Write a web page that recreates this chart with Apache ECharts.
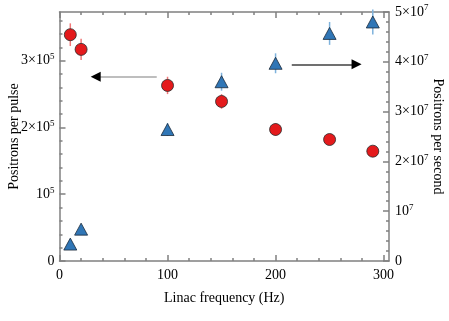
<!DOCTYPE html>
<html>
<head>
<meta charset="utf-8">
<script src="https://cdn.jsdelivr.net/npm/echarts@6/dist/echarts.min.js"></script>
<style>html,body{margin:0;padding:0;background:#fff}#c{width:449px;height:321px}</style>
</head>
<body>
<div id="c"></div>
<script>
// ---- data ----
const freq = [10, 20, 100, 150, 200, 250, 290];
const perPulse = [3.39e5, 3.17e5, 2.63e5, 2.39e5, 1.97e5, 1.82e5, 1.645e5];
const perPulseErr = [0.17e5, 0.16e5, 0.13e5, 0.11e5, 0.095e5, 0.08e5, 0.07e5];
const perSecond = [0.34e7, 0.64e7, 2.64e7, 3.6e7, 3.97e7, 4.57e7, 4.8e7];
const perSecondErr = [0.05e7, 0.08e7, 0.13e7, 0.18e7, 0.2e7, 0.23e7, 0.25e7];
const xMajor = [0, 100, 200, 300];
const xMinor = [20, 40, 60, 80, 120, 140, 160, 180, 220, 240, 260, 280];
const leftMajor = [0, 1e5, 2e5, 3e5];
const leftMinor = [0.2e5, 0.4e5, 0.6e5, 0.8e5, 1.2e5, 1.4e5, 1.6e5, 1.8e5, 2.2e5, 2.4e5, 2.6e5, 2.8e5, 3.2e5, 3.4e5, 3.6e5];
const leftLabels = {0: '{b|0}', 100000: '{b|10}{s|5}', 200000: '{b|2×10}{s|5}', 300000: '{b|3×10}{s|5}'};
const rightLabels = {0: '{b|0}', 10000000: '{b|10}{s|7}', 20000000: '{b|2×10}{s|7}', 30000000: '{b|3×10}{s|7}', 40000000: '{b|4×10}{s|7}', 50000000: '{b|5×10}{s|7}'};
const leftArrow = [[90, 2.76e5], [36, 2.76e5], [33.5, 2.76e5]];
const rightArrow = [[215, 3.95e7], [272, 3.95e7], [275, 3.95e7]];

const FONT = 'Liberation Serif';
const GRAY = '#808080';
const rich = {
  b: {fontSize: 14, fontFamily: FONT, color: '#000'},
  s: {fontSize: 9, fontFamily: FONT, color: '#000', padding: [0, 0, 8, 0]}
};
const lineStyle = {color: GRAY, width: 1.5};

function errSeries(xs, ys, es, yIdx, color) {
  return {
    type: 'custom', xAxisIndex: 0, yAxisIndex: yIdx, silent: true, z: 2,
    data: xs.map((x, i) => [x, ys[i], es[i]]),
    renderItem: (params, api) => {
      const x = api.value(0), y = api.value(1), e = api.value(2);
      const p1 = api.coord([x, y - e]), p2 = api.coord([x, y + e]);
      return {type: 'line', shape: {x1: p1[0], y1: p1[1], x2: p2[0], y2: p2[1]},
              style: {stroke: color, lineWidth: 1.5}};
    }
  };
}

function arrowMark(pts, lineColor) {
  return {
    silent: true, animation: false, label: {show: false},
    data: [
      [{coord: pts[0], symbol: 'none', lineStyle: {color: lineColor, width: 1.5, type: 'solid'}},
       {coord: pts[1], symbol: 'none'}],
      [{coord: pts[1], symbol: 'none', lineStyle: {color: '#000', width: 1.5, type: 'solid'}},
       {coord: pts[2], symbol: 'triangle', symbolSize: [10, 10]}]
    ]
  };
}

function xAx(pos, major, extra) {
  return Object.assign({
    type: 'value', position: pos, min: 0, max: 305,
    axisLine: {show: major, onZero: false, lineStyle: lineStyle},
    axisTick: {show: true, inside: true, length: major ? 6 : 3, customValues: major ? xMajor : xMinor, lineStyle: lineStyle},
    axisLabel: {show: false}, splitLine: {show: false}
  }, extra || {});
}

const chart = echarts.init(document.getElementById('c'));
chart.setOption({
  animation: false,
  grid: {left: 59.5, right: 60, top: 12, bottom: 60, containLabel: false, outerBoundsMode: 'none'},
  xAxis: [
    xAx('bottom', true, {
      name: 'Linac frequency (Hz)', nameLocation: 'middle', nameGap: 30, nameMoveOverlap: false,
      nameTextStyle: {fontFamily: FONT, fontSize: 14, color: '#000'},
      axisLabel: {show: true, customValues: xMajor, margin: 7, fontFamily: FONT, fontSize: 14, color: '#000'}
    }),
    xAx('bottom', false),
    xAx('top', true),
    xAx('top', false)
  ],
  yAxis: [
    {type: 'value', position: 'left', min: 0, max: 3.73e5,
     name: 'Positrons per pulse', nameLocation: 'middle', nameGap: 38, nameRotate: 90, nameMoveOverlap: false,
     nameTextStyle: {fontFamily: FONT, fontSize: 14, color: '#000'},
     axisLine: {show: true, onZero: false, lineStyle: lineStyle},
     axisTick: {show: true, inside: true, length: 6, customValues: leftMajor, lineStyle: lineStyle},
     axisLabel: {show: true, customValues: leftMajor, margin: 5, rich: rich,
                 formatter: v => leftLabels[Math.round(v)] || ''},
     splitLine: {show: false}},
    {type: 'value', position: 'right', min: 0, max: 5e7, interval: 1e7,
     name: 'Positrons per second', nameLocation: 'middle', nameGap: 42, nameRotate: -90, nameMoveOverlap: false,
     nameTextStyle: {fontFamily: FONT, fontSize: 14, color: '#000'},
     axisLine: {show: true, onZero: false, lineStyle: lineStyle},
     axisTick: {show: true, inside: true, length: 6, lineStyle: lineStyle},
     minorTick: {show: true, splitNumber: 5, length: 3, lineStyle: lineStyle},
     axisLabel: {show: true, margin: 6, rich: rich,
                 formatter: v => rightLabels[Math.round(v)] || ''},
     splitLine: {show: false}, minorSplitLine: {show: false}},
    {type: 'value', position: 'left', min: 0, max: 3.73e5,
     axisLine: {show: false, onZero: false},
     axisTick: {show: true, inside: true, length: 3, customValues: leftMinor, lineStyle: lineStyle},
     axisLabel: {show: false}, splitLine: {show: false}}
  ],
  series: [
    errSeries(freq, perPulse, perPulseErr, 0, '#f07878'),
    errSeries(freq, perSecond, perSecondErr, 1, '#7eb2dc'),
    {type: 'scatter', xAxisIndex: 0, yAxisIndex: 0, z: 3,
     data: freq.map((x, i) => [x, perPulse[i]]),
     symbol: 'circle', symbolSize: 12,
     itemStyle: {color: '#e41a1c', borderColor: '#2a2a2a', borderWidth: 0.8, opacity: 1},
     markLine: arrowMark(leftArrow, '#a8a8a8')},
    {type: 'scatter', xAxisIndex: 0, yAxisIndex: 1, z: 3,
     data: freq.map((x, i) => [x, perSecond[i]]),
     symbol: 'triangle', symbolSize: [13, 12],
     itemStyle: {color: '#3076b6', borderColor: '#1a2a3a', borderWidth: 0.8, opacity: 1},
     markLine: arrowMark(rightArrow, '#404040')}
  ]
});
</script>
</body>
</html>
